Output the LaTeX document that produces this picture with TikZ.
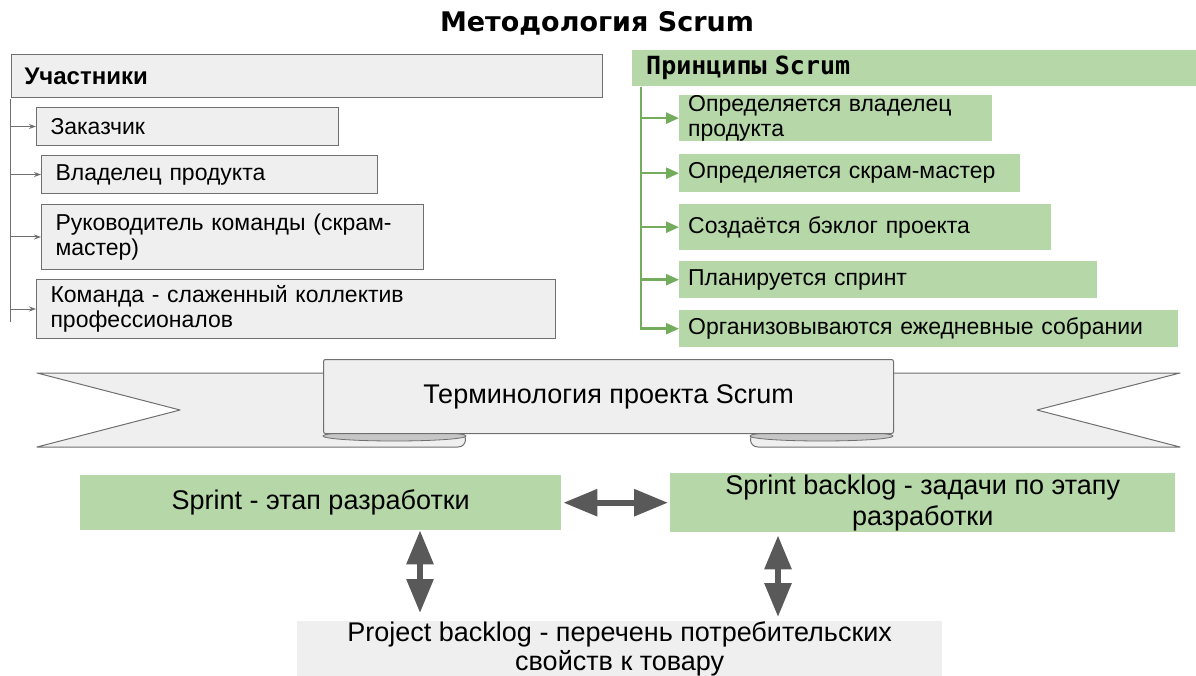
\documentclass[tikz,border=0pt]{standalone}
\usepackage{fontspec}
\setmainfont{Liberation Sans}
\newfontfamily\titlefont{DejaVu Sans}
\newfontfamily\codefont{DejaVu Sans Mono}
\usetikzlibrary{arrows.meta}
\definecolor{boxgray}{HTML}{EFEFEF}
\definecolor{boxline}{HTML}{6F6F6F}
\definecolor{lgreen}{HTML}{B6D7A8}
\definecolor{dgreen}{HTML}{74AC5E}
\definecolor{darrow}{HTML}{595959}
\newcommand{\itemsize}{\fontsize{23}{25}\selectfont}
\newcommand{\bigsize}{\fontsize{27}{31}\selectfont}

\begin{document}
\begin{tikzpicture}[x=1pt,y=-1pt,
  member/.style={draw=boxline,line width=1pt,fill=boxgray,anchor=north west,align=left,inner xsep=14pt,inner ysep=0pt,font=\itemsize},
  rule/.style={fill=lgreen,anchor=north west,align=left,inner xsep=9pt,inner ysep=0pt,font=\itemsize},
  term/.style={anchor=north west,align=center,inner sep=0pt,font=\bigsize},
  thin/.style={draw=boxline,line width=1pt,-{Stealth[length=7pt,width=5pt]}},
  thick/.style={draw=dgreen,line width=2.5pt,-{Triangle[length=13pt,width=11pt]}},
  both/.style={darrow,line width=6pt,{Triangle[length=34pt,width=26pt]}-{Triangle[length=34pt,width=26pt]}}]
\useasboundingbox (0,0) rectangle (1196,676);

\node[font=\titlefont\bfseries\fontsize{27}{30}\selectfont] (title) at (597,23) {Методология Scrum};

\node[member,text width=565pt,minimum height=43pt,inner xsep=13pt,font=\bfseries\fontsize{24}{26}\selectfont] (who) at (11,54) {Участники};
\node[member,text width=274pt,minimum height=38pt] (m1) at (36,107) {Заказчик};
\node[member,text width=308pt,minimum height=38pt] (m2) at (41,155) {Владелец продукта};
\node[member,text width=354pt,minimum height=65pt] (m3) at (41,204) {Руководитель команды (скрам-\\мастер)};
\node[member,text width=491pt,minimum height=59pt] (m4) at (36,279) {Команда - слаженный коллектив\\профессионалов};
\coordinate (wtop) at (10,99);
\coordinate (wbot) at (10,322);
\draw[boxline,line width=1pt] (wtop) -- (wbot);
\foreach \m in {m1,m2,m3,m4}
  \draw[thin] (\m.west -| wtop) -- (\m.west);

\node[rule,text width=536pt,minimum height=36pt,inner xsep=14pt,font=\codefont\bfseries\fontsize{25}{28}\selectfont] (how) at (632,50) {Принципы Scrum};
\node[rule,text width=295pt,minimum height=45pt] (p1) at (679,95) {Определяется владелец\\продукта};
\node[rule,text width=323pt,minimum height=38pt] (p2) at (679,154) {Определяется скрам-мастер};
\node[rule,text width=354pt,minimum height=46pt] (p3) at (679,204) {Создаётся бэклог проекта};
\node[rule,text width=400pt,minimum height=37pt] (p4) at (679,261) {Планируется спринт};
\node[rule,text width=481pt,minimum height=37pt] (p5) at (679,310) {Организовываются ежедневные собрании};
\coordinate (gtop) at (641,87);
\draw[thick] (gtop) |- (p5.west);
\foreach \p in {p1,p2,p3,p4}
  \draw[thick] (\p.west -| gtop) -- (\p.west);

\draw[boxline,fill=boxgray,line width=1pt,line join=round] (37,373) -- (340,373) -- (340,432) -- (458,432) .. controls (468,432) and (468,447) .. (458,447) -- (37,447) -- (180,410) -- cycle;
\draw[boxline,fill=boxgray,line width=1pt,line join=round] (1180,373) -- (880,373) -- (880,432) -- (758,432) .. controls (748,432) and (748,447) .. (758,447) -- (1180,447) -- (1037,410) -- cycle;
\draw[boxline,fill=gray!45,line width=0.8pt] (394.5,436) ellipse[x radius=71.5,y radius=5];
\draw[boxline,fill=gray!45,line width=0.8pt] (821.5,436) ellipse[x radius=71.5,y radius=5];
\node[term,draw=boxline,line width=1pt,fill=boxgray,rounded corners=2pt,minimum width=570pt,minimum height=74pt] (band) at (323,359) {Терминология проекта Scrum};

\node[term,fill=lgreen,minimum width=481pt,minimum height=55pt] (sprint) at (80,475) {Sprint - этап разработки};
\node[term,fill=lgreen,minimum width=505pt,minimum height=59pt] (blog) at (670,473) {Sprint backlog - задачи по этапу\\разработки};
\node[term,fill=boxgray,minimum width=645pt,minimum height=52pt,font=\fontsize{27}{29}\selectfont] (proj) at (297,621) {Project backlog - перечень потребительских\\свойств к товару};
\coordinate (lx) at (420,0);
\coordinate (rx) at (778,0);
\draw[both,shorten <=2pt,shorten >=2pt] (sprint.east) -- (blog.west);
\draw[both,shorten >=8pt] (sprint.south -| lx) -- (proj.north -| lx);
\draw[both,shorten <=3pt,shorten >=4pt] (blog.south -| rx) -- (proj.north -| rx);
\end{tikzpicture}
\end{document}
